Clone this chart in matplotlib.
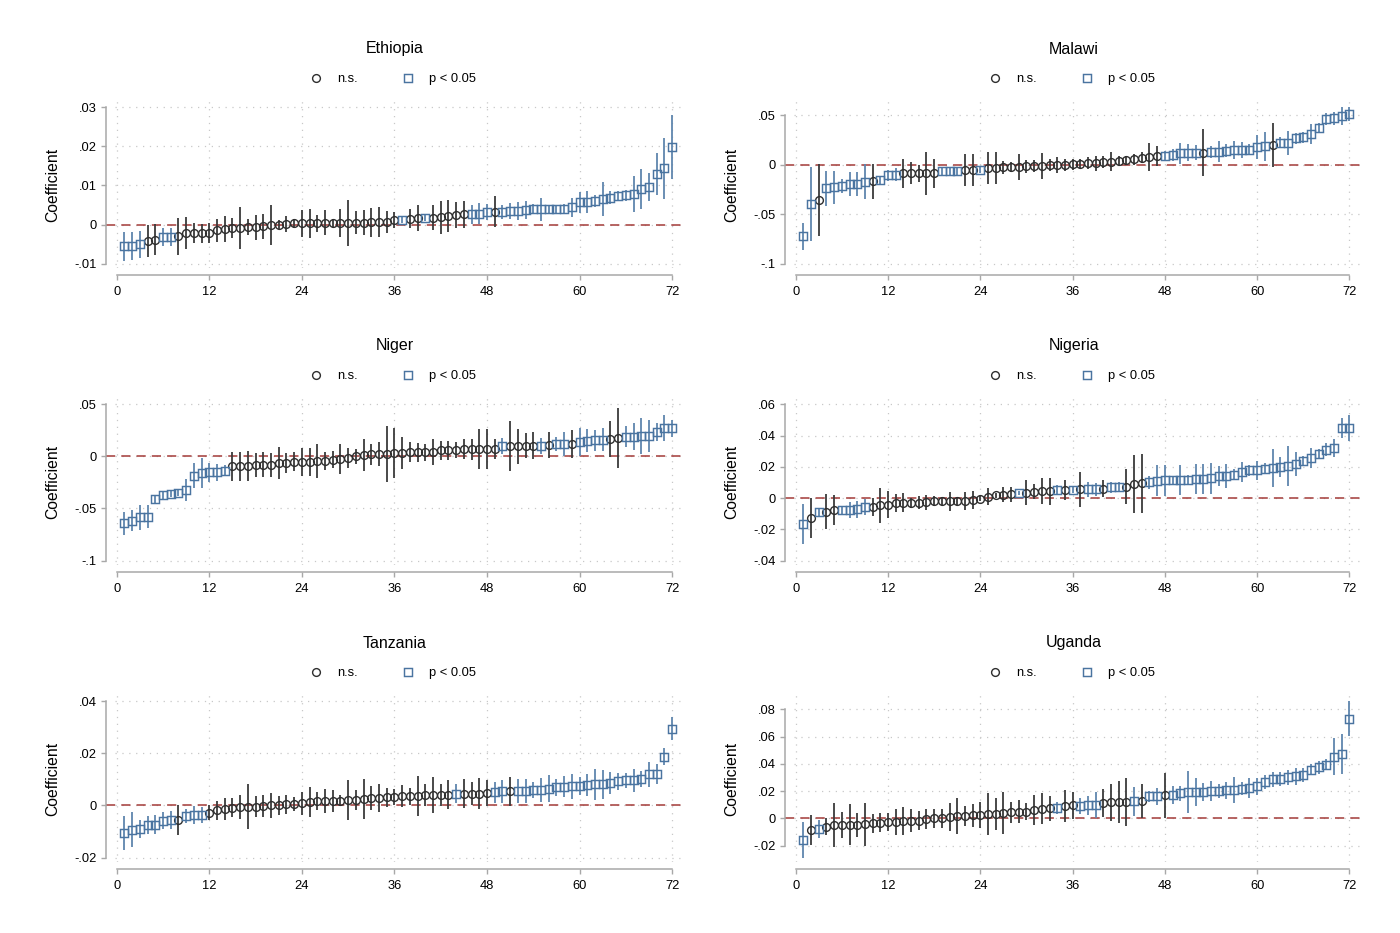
import numpy as np
import matplotlib.pyplot as plt
from matplotlib.lines import Line2D

plt.rcParams['font.family'] = ['Liberation Sans', 'DejaVu Sans']

# ---- data: ranked coefficients, 95% CI half-widths, ranks with p < 0.05 ----
ethiopia_coef = [-0.0056, -0.0055, -0.0051, -0.0042, -0.0039, -0.0032, -0.0032, -0.0030, -0.0022, -0.0022,
                 -0.0022, -0.0022, -0.0015, -0.0011, -0.0009, -0.0009, -0.0007, -0.0007, -0.0005, -0.0002,
                 0.0000, 0.0002, 0.0003, 0.0003, 0.0003, 0.0003, 0.0004, 0.0004, 0.0004, 0.0005,
                 0.0005, 0.0005, 0.0006, 0.0007, 0.0007, 0.0011, 0.0012, 0.0015, 0.0016, 0.0017,
                 0.0017, 0.0019, 0.0021, 0.0024, 0.0026, 0.0026, 0.0028, 0.0032, 0.0033, 0.0033,
                 0.0034, 0.0035, 0.0037, 0.0039, 0.0039, 0.0040, 0.0040, 0.0041, 0.0044, 0.0057,
                 0.0058, 0.0060, 0.0065, 0.0069, 0.0073, 0.0075, 0.0078, 0.0092, 0.0096, 0.0129,
                 0.0144, 0.0198]
ethiopia_ci = [0.0037, 0.0037, 0.0035, 0.0042, 0.0040, 0.0022, 0.0024, 0.0047, 0.0041, 0.0026,
               0.0024, 0.0026, 0.0030, 0.0033, 0.0025, 0.0054, 0.0020, 0.0032, 0.0033, 0.0051,
               0.0011, 0.0020, 0.0012, 0.0034, 0.0037, 0.0021, 0.0032, 0.0010, 0.0036, 0.0059,
               0.0030, 0.0033, 0.0037, 0.0039, 0.0028, 0.0021, 0.0009, 0.0025, 0.0033, 0.0009,
               0.0032, 0.0042, 0.0041, 0.0033, 0.0035, 0.0024, 0.0026, 0.0020, 0.0039, 0.0018,
               0.0020, 0.0023, 0.0024, 0.0013, 0.0030, 0.0011, 0.0011, 0.0012, 0.0025, 0.0027,
               0.0029, 0.0015, 0.0043, 0.0016, 0.0013, 0.0014, 0.0045, 0.0051, 0.0036, 0.0054,
               0.0078, 0.0082]
ethiopia_sig = [1, 2, 3, 6, 7, 37, 40, 46, 47, 48] + list(range(50, 73))
ethiopia_yticks = [-0.01, 0, 0.01, 0.02, 0.03]

malawi_coef = [-0.0724, -0.0396, -0.0359, -0.0240, -0.0230, -0.0220, -0.0200, -0.0193, -0.0173, -0.0169,
               -0.0159, -0.0108, -0.0102, -0.0088, -0.0088, -0.0088, -0.0088, -0.0088, -0.0068, -0.0068,
               -0.0064, -0.0054, -0.0054, -0.0051, -0.0037, -0.0037, -0.0027, -0.0024, -0.0020, -0.0017,
               -0.0017, -0.0014, -0.0003, -0.0003, 0.0000, 0.0003, 0.0010, 0.0014, 0.0014, 0.0030,
               0.0030, 0.0041, 0.0044, 0.0054, 0.0071, 0.0078, 0.0088, 0.0088, 0.0098, 0.0115,
               0.0122, 0.0122, 0.0122, 0.0129, 0.0129, 0.0142, 0.0149, 0.0149, 0.0152, 0.0176,
               0.0183, 0.0196, 0.0220, 0.0220, 0.0264, 0.0274, 0.0308, 0.0372, 0.0460, 0.0467,
               0.0487, 0.0511]
malawi_ci = [0.0139, 0.0373, 0.0363, 0.0175, 0.0170, 0.0071, 0.0122, 0.0122, 0.0176, 0.0176,
             0.0042, 0.0056, 0.0068, 0.0144, 0.0110, 0.0085, 0.0215, 0.0147, 0.0040, 0.0040,
             0.0040, 0.0158, 0.0158, 0.0030, 0.0163, 0.0160, 0.0068, 0.0051, 0.0132, 0.0064,
             0.0061, 0.0136, 0.0059, 0.0080, 0.0060, 0.0058, 0.0047, 0.0060, 0.0076, 0.0060,
             0.0093, 0.0050, 0.0047, 0.0056, 0.0058, 0.0144, 0.0102, 0.0051, 0.0059, 0.0105,
             0.0085, 0.0071, 0.0237, 0.0059, 0.0105, 0.0068, 0.0093, 0.0081, 0.0059, 0.0119,
             0.0147, 0.0225, 0.0056, 0.0119, 0.0059, 0.0051, 0.0102, 0.0051, 0.0056, 0.0068,
             0.0091, 0.0068]
malawi_sig = [1, 2, 4, 5, 6, 7, 8, 9, 11, 12, 13, 19, 20, 21, 24] + list(range(48, 53)) \
    + list(range(54, 62)) + list(range(63, 73))
malawi_yticks = [-0.1, -0.05, 0, 0.05]

niger_coef = [-0.0642, -0.0617, -0.0585, -0.0578, -0.0412, -0.0371, -0.0358, -0.0351, -0.0326, -0.0185,
              -0.0160, -0.0153, -0.0153, -0.0137, -0.0096, -0.0096, -0.0093, -0.0083, -0.0080, -0.0080,
              -0.0064, -0.0064, -0.0051, -0.0051, -0.0051, -0.0045, -0.0042, -0.0032, -0.0022, -0.0016,
              0.0000, 0.0013, 0.0019, 0.0022, 0.0022, 0.0032, 0.0032, 0.0038, 0.0038, 0.0038,
              0.0045, 0.0058, 0.0058, 0.0061, 0.0067, 0.0067, 0.0070, 0.0070, 0.0070, 0.0099,
              0.0099, 0.0099, 0.0102, 0.0102, 0.0102, 0.0109, 0.0118, 0.0118, 0.0118, 0.0137,
              0.0150, 0.0153, 0.0160, 0.0166, 0.0173, 0.0188, 0.0188, 0.0195, 0.0198, 0.0236,
              0.0268, 0.0268]
niger_ci = [0.0112, 0.0101, 0.0123, 0.0112, 0.0032, 0.0043, 0.0032, 0.0027, 0.0105, 0.0117,
            0.0141, 0.0091, 0.0080, 0.0050, 0.0137, 0.0139, 0.0140, 0.0118, 0.0121, 0.0115,
            0.0157, 0.0096, 0.0090, 0.0136, 0.0136, 0.0165, 0.0088, 0.0080, 0.0144, 0.0096,
            0.0072, 0.0157, 0.0104, 0.0112, 0.0270, 0.0240, 0.0152, 0.0096, 0.0088, 0.0080,
            0.0123, 0.0088, 0.0091, 0.0080, 0.0096, 0.0104, 0.0195, 0.0195, 0.0099, 0.0075,
            0.0243, 0.0168, 0.0120, 0.0131, 0.0075, 0.0125, 0.0069, 0.0112, 0.0133, 0.0131,
            0.0112, 0.0101, 0.0112, 0.0174, 0.0288, 0.0099, 0.0128, 0.0176, 0.0155, 0.0085,
            0.0125, 0.0080]
niger_sig = list(range(1, 15)) + [50, 55, 57, 58, 60, 61, 62, 63] + list(range(66, 73))
niger_yticks = [-0.1, -0.05, 0, 0.05]

nigeria_coef = [-0.0165, -0.0128, -0.0092, -0.0086, -0.0079, -0.0079, -0.0075, -0.0073, -0.0058, -0.0056,
                -0.0047, -0.0043, -0.0032, -0.0030, -0.0032, -0.0030, -0.0026, -0.0021, -0.0021, -0.0021,
                -0.0021, -0.0017, -0.0013, -0.0004, 0.0009, 0.0019, 0.0021, 0.0026, 0.0030, 0.0034,
                0.0039, 0.0045, 0.0043, 0.0051, 0.0051, 0.0053, 0.0056, 0.0056, 0.0056, 0.0060,
                0.0068, 0.0068, 0.0073, 0.0090, 0.0094, 0.0101, 0.0111, 0.0113, 0.0113, 0.0113,
                0.0116, 0.0122, 0.0122, 0.0126, 0.0139, 0.0141, 0.0150, 0.0167, 0.0178, 0.0178,
                0.0188, 0.0193, 0.0201, 0.0203, 0.0218, 0.0240, 0.0257, 0.0282, 0.0310, 0.0321,
                0.0449, 0.0449]
nigeria_ci = [0.0127, 0.0128, 0.0030, 0.0113, 0.0096, 0.0027, 0.0053, 0.0053, 0.0050, 0.0057,
              0.0114, 0.0086, 0.0059, 0.0062, 0.0032, 0.0043, 0.0048, 0.0032, 0.0021, 0.0059,
              0.0021, 0.0057, 0.0057, 0.0016, 0.0056, 0.0016, 0.0048, 0.0048, 0.0013, 0.0080,
              0.0048, 0.0086, 0.0086, 0.0032, 0.0064, 0.0021, 0.0110, 0.0046, 0.0040, 0.0056,
              0.0035, 0.0032, 0.0112, 0.0185, 0.0189, 0.0041, 0.0099, 0.0099, 0.0027, 0.0096,
              0.0032, 0.0098, 0.0096, 0.0099, 0.0064, 0.0075, 0.0035, 0.0064, 0.0035, 0.0061,
              0.0037, 0.0124, 0.0064, 0.0128, 0.0075, 0.0029, 0.0062, 0.0029, 0.0043, 0.0057,
              0.0064, 0.0081]
nigeria_sig = [1, 3, 6, 7, 8, 9, 29, 34, 36, 38, 39, 41, 42] + list(range(46, 73))
nigeria_yticks = [-0.04, -0.02, 0, 0.02, 0.04, 0.06]

tanzania_coef = [-0.0106, -0.0093, -0.0091, -0.0075, -0.0073, -0.0059, -0.0055, -0.0055, -0.0040, -0.0037,
                 -0.0037, -0.0027, -0.0019, -0.0014, -0.0008, -0.0006, -0.0005, -0.0004, -0.0001, 0.0001,
                 0.0001, 0.0004, 0.0005, 0.0008, 0.0013, 0.0017, 0.0018, 0.0018, 0.0019, 0.0022,
                 0.0022, 0.0026, 0.0028, 0.0028, 0.0032, 0.0032, 0.0035, 0.0035, 0.0037, 0.0040,
                 0.0040, 0.0041, 0.0041, 0.0046, 0.0046, 0.0046, 0.0046, 0.0047, 0.0050, 0.0054,
                 0.0054, 0.0055, 0.0055, 0.0060, 0.0060, 0.0065, 0.0070, 0.0072, 0.0074, 0.0075,
                 0.0077, 0.0081, 0.0081, 0.0087, 0.0093, 0.0096, 0.0096, 0.0101, 0.0119, 0.0121,
                 0.0187, 0.0294]
tanzania_ci = [0.0066, 0.0068, 0.0035, 0.0033, 0.0035, 0.0033, 0.0035, 0.0058, 0.0027, 0.0035,
               0.0031, 0.0027, 0.0038, 0.0043, 0.0038, 0.0045, 0.0086, 0.0040, 0.0042, 0.0048,
               0.0036, 0.0038, 0.0027, 0.0043, 0.0057, 0.0033, 0.0045, 0.0043, 0.0022, 0.0077,
               0.0038, 0.0077, 0.0045, 0.0053, 0.0037, 0.0032, 0.0042, 0.0034, 0.0077, 0.0042,
               0.0070, 0.0042, 0.0055, 0.0037, 0.0054, 0.0043, 0.0059, 0.0050, 0.0041, 0.0043,
               0.0056, 0.0046, 0.0046, 0.0032, 0.0045, 0.0051, 0.0032, 0.0040, 0.0048, 0.0034,
               0.0042, 0.0058, 0.0056, 0.0041, 0.0033, 0.0029, 0.0043, 0.0030, 0.0049, 0.0040,
               0.0032, 0.0044]
tanzania_sig = [1, 2, 3, 4, 5, 6, 7, 9, 10, 11, 44, 49, 50] + list(range(52, 73))
tanzania_yticks = [-0.02, 0, 0.02, 0.04]

uganda_coef = [-0.0157, -0.0083, -0.0078, -0.0059, -0.0047, -0.0047, -0.0047, -0.0047, -0.0042, -0.0034,
               -0.0032, -0.0027, -0.0027, -0.0017, -0.0017, -0.0015, -0.0002, 0.0002, 0.0002, 0.0010,
               0.0017, 0.0020, 0.0022, 0.0027, 0.0032, 0.0032, 0.0037, 0.0044, 0.0049, 0.0051,
               0.0064, 0.0071, 0.0076, 0.0076, 0.0093, 0.0096, 0.0093, 0.0096, 0.0100, 0.0113,
               0.0120, 0.0120, 0.0120, 0.0125, 0.0130, 0.0162, 0.0162, 0.0169, 0.0174, 0.0184,
               0.0194, 0.0194, 0.0194, 0.0199, 0.0203, 0.0206, 0.0208, 0.0218, 0.0223, 0.0235,
               0.0267, 0.0289, 0.0289, 0.0301, 0.0309, 0.0316, 0.0358, 0.0375, 0.0395, 0.0453,
               0.0475, 0.0733]
uganda_ci = [0.0130, 0.0110, 0.0066, 0.0064, 0.0159, 0.0098, 0.0151, 0.0086, 0.0159, 0.0070,
             0.0070, 0.0067, 0.0096, 0.0104, 0.0085, 0.0070, 0.0074, 0.0071, 0.0070, 0.0102,
             0.0132, 0.0072, 0.0082, 0.0096, 0.0156, 0.0118, 0.0154, 0.0074, 0.0085, 0.0064,
             0.0110, 0.0114, 0.0092, 0.0045, 0.0116, 0.0098, 0.0059, 0.0067, 0.0096, 0.0104,
             0.0135, 0.0156, 0.0174, 0.0107, 0.0124, 0.0043, 0.0064, 0.0165, 0.0067, 0.0053,
             0.0151, 0.0100, 0.0065, 0.0074, 0.0049, 0.0061, 0.0098, 0.0049, 0.0074, 0.0059,
             0.0049, 0.0055, 0.0053, 0.0053, 0.0064, 0.0051, 0.0042, 0.0047, 0.0040, 0.0135,
             0.0147, 0.0127]
uganda_sig = [1, 3, 34, 37, 38, 39, 44, 46, 47] + list(range(49, 73))
uganda_yticks = [-0.02, 0, 0.02, 0.04, 0.06, 0.08]

xticks = [0, 12, 24, 36, 48, 60, 72]

panels = [
    ("Ethiopia", ethiopia_coef, ethiopia_ci, ethiopia_sig, ethiopia_yticks),
    ("Malawi", malawi_coef, malawi_ci, malawi_sig, malawi_yticks),
    ("Niger", niger_coef, niger_ci, niger_sig, niger_yticks),
    ("Nigeria", nigeria_coef, nigeria_ci, nigeria_sig, nigeria_yticks),
    ("Tanzania", tanzania_coef, tanzania_ci, tanzania_sig, tanzania_yticks),
    ("Uganda", uganda_coef, uganda_ci, uganda_sig, uganda_yticks),
]

SIG_COLOR = "#4a74a0"
SIG_BAR = "#5f86ae"
NS_COLOR = "#2e2e2e"
NS_BAR = "#3a3a3a"
REF_COLOR = "#a33a38"
AXIS_COLOR = "#a8a8a8"
GRID_COLOR = "#c8c8c8"


def stata_label(v):
    if v == 0:
        return "0"
    s = f"{v:g}"
    return s.replace("0.", ".")


W, H = 1400, 933
fig = plt.figure(figsize=(W / 100, H / 100), dpi=100)

col_left = [115.2, 794.2]
col_unit = [7.713, 7.69]
row_top = [101, 398, 695]
ax_h = 167
xlim = (-0.2, 73.5)

for k, (name, coef, ci, sig, yticks) in enumerate(panels):
    row, col = divmod(k, 2)
    left_px = col_left[col]
    width_px = (xlim[1] - xlim[0]) * col_unit[col]
    top_px = row_top[row]
    ax = fig.add_axes([left_px / W, (H - top_px - ax_h) / H, width_px / W, ax_h / H])

    coef = np.array(coef)
    ci = np.array(ci)
    x = np.arange(1, len(coef) + 1)
    is_sig = np.isin(x, sig)

    lo = min((coef - ci).min(), yticks[0])
    hi = max((coef + ci).max(), yticks[-1])
    r = hi - lo
    ax.set_ylim(lo - 0.028 * r, hi + 0.04 * r)
    ax.set_xlim(*xlim)

    ax.grid(True, linestyle=(0, (1, 4.5)), color=GRID_COLOR, linewidth=0.9)
    ax.set_axisbelow(True)

    spine_px = 9.5
    ax.axhline(0, xmin=-spine_px / width_px, xmax=1, color=REF_COLOR,
               linestyle=(0, (6, 4)), linewidth=1.1, clip_on=False, zorder=1)

    ax.vlines(x[~is_sig], (coef - ci)[~is_sig], (coef + ci)[~is_sig],
              colors=NS_BAR, linewidth=1.3, zorder=2)
    ax.vlines(x[is_sig], (coef - ci)[is_sig], (coef + ci)[is_sig],
              colors=SIG_BAR, linewidth=1.3, zorder=2)
    ax.plot(x[~is_sig], coef[~is_sig], "o", mfc="none", mec=NS_COLOR,
            ms=5.6, mew=1.0, linestyle="none", zorder=3)
    ax.plot(x[is_sig], coef[is_sig], "s", mfc="none", mec=SIG_COLOR,
            ms=5.4, mew=1.05, linestyle="none", zorder=3)

    for side in ["top", "right"]:
        ax.spines[side].set_visible(False)
    ax.spines["left"].set_position(("outward", spine_px * 0.72))
    ax.spines["bottom"].set_position(("outward", 7 * 0.72))
    ax.spines["left"].set_bounds(yticks[0], yticks[-1])
    ax.spines["bottom"].set_bounds(0, 72)
    for side in ["left", "bottom"]:
        ax.spines[side].set_color(AXIS_COLOR)
        ax.spines[side].set_linewidth(1.1)

    ax.set_xticks(xticks)
    ax.set_yticks(yticks)
    ax.set_yticklabels([stata_label(v) for v in yticks])
    ax.tick_params(axis="both", length=3.8, width=1.0, color=AXIS_COLOR,
                   labelsize=9.3, labelcolor="#000000", pad=2.5)
    ax.tick_params(axis="x", pad=4.0)

    ax.set_ylabel("Coefficient", fontsize=11.3)
    ax.yaxis.set_label_coords(-0.097, 0.5)

    title_x = [395, 1074][col]
    fig.text(title_x / W, 1 - (top_px - 52) / H, name, ha="center", va="center", fontsize=11.5)

    handles = [
        Line2D([], [], marker="o", mfc="none", mec=NS_COLOR, ms=5.6, mew=1.0, linestyle="none"),
        Line2D([], [], marker="s", mfc="none", mec=SIG_COLOR, ms=5.4, mew=1.05, linestyle="none"),
    ]
    leg_x = [393, 1072][col]
    fig.legend(handles, ["n.s.", "p < 0.05"], loc="center",
               bbox_to_anchor=(leg_x / W, 1 - (top_px - 22) / H), ncol=2, frameon=False,
               fontsize=9.3, handlelength=1.0, handletextpad=1.14, columnspacing=3.35,
               borderpad=0, borderaxespad=0)

fig.savefig("out.png", dpi=100, facecolor="white")
